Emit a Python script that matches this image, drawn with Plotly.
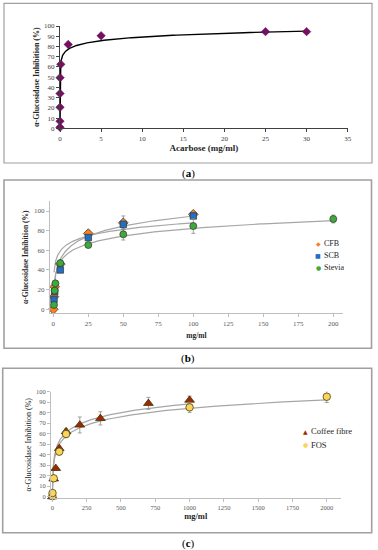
import numpy as np
import plotly.graph_objects as go

# ---------------- data ----------------
# (a) Acarbose
acarbose_conc = [0.0001, 0.0005, 0.001, 0.005, 0.01, 0.1, 1, 5, 25, 30]
acarbose_inhib = [1, 7, 20.5, 34, 49.5, 62.5, 82, 90.5, 94.5, 94.5]
acarbose_trend = (5.2, 77.3)          # y = a*ln(x) + b

# (b) CFB / SCB / Stevia
cfb_conc = [0, 0.5, 1, 5, 25, 50, 100]
cfb_inhib = [0, 12.8, 23, 46, 77, 88, 96.6]
cfb_err = [0.5, 1, 1.5, 2, 3.4, 7, 3]
scb_conc = [0.5, 1, 5, 25, 50, 100]
scb_inhib = [10, 18, 40, 73, 86.4, 95]
scb_err = [1, 1, 1.5, 2.5, 5, 3]
stevia_conc = [0.5, 1, 1.5, 5, 25, 50, 100, 200]
stevia_inhib = [4.4, 19, 26.4, 47, 65.4, 76.3, 84.7, 91.9]
stevia_err = [0.5, 1, 1.5, 2, 2.4, 5.8, 7.4, 4]
cfb_trend = (9.5, 44.2)
scb_trend = (14.7, 27.2)
stevia_trend = (11.25, 30.6)

# (c) Coffee fibre / FOS
coffee_conc = [0, 10, 25, 50, 100, 200, 350, 700, 1000]
coffee_inhib = [0, 17, 27, 46, 62, 68.3, 74.6, 88.9, 92]
coffee_err = [0.5, 1, 1.5, 2.5, 2.5, 7.6, 6.3, 5.7, 3.8]
fos_conc = [0, 1, 10, 50, 100, 1000, 2000]
fos_inhib = [0.5, 3.5, 17.5, 42.9, 59.7, 85.1, 95.2]
fos_err = [0.5, 0.5, 1, 3, 3.5, 4.8, 5.5]
coffee_trend = (11.8, 6.8)
fos_trend = (11.5, 4.8)

Y_TITLE = "α-Glucosidase Inhibition (%)"

W, H = 378, 550
FONT = "Liberation Serif"


def px_x(p):
    return p / W


def px_y(p):
    return 1 - p / H


def trend_xy(coef, x_min, x_max, n=400):
    a, b = coef
    xs = np.geomspace(x_min, x_max, n)
    ys = a * np.log(xs) + b
    keep = ys >= 0
    return xs[keep], ys[keep]


fig = go.Figure()

# ---------- (a) ----------
tx, ty = trend_xy(acarbose_trend, 1e-7, max(acarbose_conc), 600)
fig.add_trace(go.Scatter(x=tx, y=ty, mode="lines", line=dict(color="#000000", width=1.4),
                         xaxis="x", yaxis="y", showlegend=False, hoverinfo="skip"))
fig.add_trace(go.Scatter(x=acarbose_conc, y=acarbose_inhib, mode="markers",
                         marker=dict(symbol="diamond", size=6.5, color="#760E62",
                                     line=dict(color="#5a0a4a", width=0.5)),
                         xaxis="x", yaxis="y", showlegend=False, cliponaxis=False))

# ---------- (b) ----------
gray_line = dict(color="#a6a6a6", width=1.2)
for coef, xs in [(cfb_trend, cfb_conc), (scb_trend, scb_conc), (stevia_trend, stevia_conc)]:
    tx, ty = trend_xy(coef, 0.5, max(xs))
    fig.add_trace(go.Scatter(x=tx, y=ty, mode="lines", line=gray_line,
                             xaxis="x2", yaxis="y2", showlegend=False, hoverinfo="skip"))

err_style = dict(type="data", color="#8c8c8c", thickness=0.8, width=2)
for name, xs, ys, es, sym, col, sz in [
    ("CFB", cfb_conc, cfb_inhib, cfb_err, "diamond", "#F5821F", 7.5),
    ("SCB", scb_conc, scb_inhib, scb_err, "square", "#1F6FC5", 6.5),
    ("Stevia", stevia_conc, stevia_inhib, stevia_err, "circle", "#3DAA3A", 7),
]:
    fig.add_trace(go.Scatter(x=xs, y=ys, name=name, mode="markers",
                             error_y=dict(array=es, **err_style),
                             marker=dict(symbol=sym, size=sz, color=col,
                                         line=dict(color="#333333", width=0.7)),
                             xaxis="x2", yaxis="y2", showlegend=False, cliponaxis=False))

# ---------- (c) ----------
for coef, xs in [(coffee_trend, coffee_conc), (fos_trend, fos_conc)]:
    tx, ty = trend_xy(coef, 1, max(xs))
    fig.add_trace(go.Scatter(x=tx, y=ty, mode="lines", line=gray_line,
                             xaxis="x3", yaxis="y3", showlegend=False, hoverinfo="skip"))

for name, xs, ys, es, sym, col, sz in [
    ("Coffee fibre", coffee_conc, coffee_inhib, coffee_err, "triangle-up", "#9E2A00", 8.5),
    ("FOS", fos_conc, fos_inhib, fos_err, "circle", "#F9D55B", 7.5),
]:
    fig.add_trace(go.Scatter(x=xs, y=ys, name=name, mode="markers",
                             error_y=dict(array=es, **err_style),
                             marker=dict(symbol=sym, size=sz, color=col,
                                         line=dict(color="#3a2a00", width=0.7)),
                             xaxis="x3", yaxis="y3", showlegend=False, cliponaxis=False))


def axis(domain, rng, dtick, anchor, title, tfont, lcolor, standoff, tickcolor="#404040", tsize=7):
    return dict(domain=domain, range=rng, dtick=dtick, tick0=0, anchor=anchor,
                automargin=False,
                showgrid=False, zeroline=False, showline=True, linecolor=lcolor, linewidth=1,
                ticks="outside", ticklen=3, tickcolor=lcolor, tickwidth=1,
                tickfont=dict(family=FONT, size=tsize, color=tickcolor),
                title=dict(text=title, font=tfont, standoff=standoff))


fig.update_layout(
    width=W, height=H, margin=dict(l=0, r=0, t=0, b=0),
    paper_bgcolor="white", plot_bgcolor="rgba(0,0,0,0)",
    showlegend=False,
    xaxis=axis([px_x(60), px_x(347.7)], [0, 35], 5, "y", "<b>Acarbose (mg/ml)</b>",
               dict(family=FONT, size=9, color="#262626"), "#404040", 2),
    yaxis=axis([px_y(128.3), px_y(26)], [0, 100], 10, "x", "<b>" + Y_TITLE + "</b>",
               dict(family=FONT, size=8, color="#262626"), "#404040", 3),
    xaxis2=axis([px_x(49.8), px_x(343.1)], [-2.5, 207], 25, "y2", "<b>mg/ml</b>",
                dict(family=FONT, size=7.5, color="#262626"), "#bfbfbf", 6, "#595959"),
    yaxis2=axis([px_y(313.2), px_y(201.2)], [-4, 110], 20, "x2", "<b>" + Y_TITLE + "</b>",
                dict(family=FONT, size=7.5, color="#262626"), "#bfbfbf", 4, "#595959"),
    xaxis3=axis([px_x(51.0), px_x(340.5)], [-10, 2100], 250, "y3", "<b>mg/ml</b>",
                dict(family=FONT, size=8.5, color="#262626"), "#bfbfbf", 2, "#595959", 6.5),
    yaxis3=axis([px_y(497.75), px_y(391.7)], [-1, 100], 10, "x3", Y_TITLE,
                dict(family=FONT, size=8, color="#262626"), "#bfbfbf", 3, "#595959", 6.5),
)

# panel borders
for x0, y0, x1, y1, wdt in [(4, 3.3, 372, 163, 1.2), (4, 180, 371.5, 348.3, 1.6),
                            (2.7, 368.3, 371.7, 532.7, 1.6)]:
    fig.add_shape(type="rect", xref="paper", yref="paper",
                  x0=px_x(x0), x1=px_x(x1), y0=px_y(y1), y1=px_y(y0),
                  line=dict(color="#a0a0a0", width=wdt), fillcolor="rgba(0,0,0,0)")

# panel labels
for lab, yp in [("a", 173), ("b", 358), ("c", 543)]:
    fig.add_annotation(text="(<b>%s</b>)" % lab, xref="paper", yref="paper",
                       x=px_x(188), y=px_y(yp), xanchor="center", yanchor="middle",
                       showarrow=False, font=dict(family=FONT, size=11, color="#000000"))

# legends (glyph key + label)
legend_b = [("◆", "#F5821F", "CFB", 243), ("■", "#1F6FC5", "SCB", 255), ("●", "#3DAA3A", "Stevia", 267)]
legend_c = [("▲", "#9E2A00", "Coffee fibre", 431), ("●", "#F9D55B", "FOS", 444.5)]
for items, kx, lx, fs in [(legend_b, 318.3, 321.5, 8), (legend_c, 305, 309, 8.5)]:
    for glyph, col, lab, yp in items:
        fig.add_annotation(text=glyph, xref="paper", yref="paper", x=px_x(kx), y=px_y(yp),
                           xanchor="center", yanchor="middle", showarrow=False,
                           font=dict(family="DejaVu Sans", size=6, color=col))
        fig.add_annotation(text=lab, xref="paper", yref="paper", x=px_x(lx), y=px_y(yp),
                           xanchor="left", yanchor="middle", showarrow=False,
                           font=dict(family=FONT, size=fs, color="#262626"))

fig.write_html("out.html", config={"displayModeBar": False},
               post_script="document.body.style.margin='0px';")
